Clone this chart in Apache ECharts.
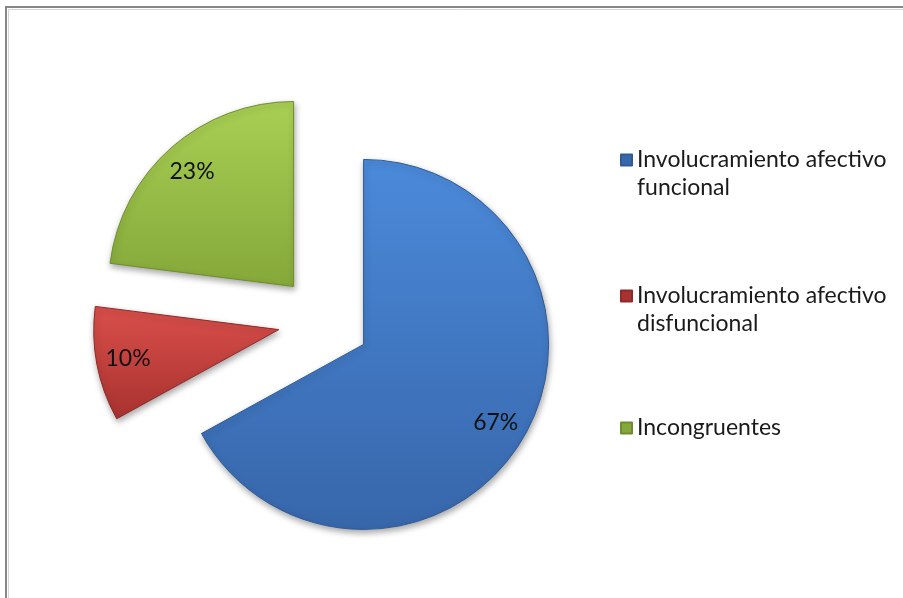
<!DOCTYPE html>
<html>
<head>
<meta charset="utf-8">
<script src="https://cdn.jsdelivr.net/npm/echarts@6/dist/echarts.min.js"></script>
<style>
html,body{margin:0;padding:0;background:#fff;}
#chart{width:903px;height:598px;}
</style>
</head>
<body>
<div id="chart"></div>
<script>
// Data
const categories = ['Involucramiento afectivo funcional', 'Involucramiento afectivo disfuncional', 'Incongruentes'];
const values = [67, 10, 23];
const legendLines = ['Involucramiento afectivo\nfuncional', 'Involucramiento afectivo\ndisfuncional', 'Incongruentes'];

const gradients = [
  ['#4B8ADA', '#3766AA'],
  ['#DA4F4B', '#A8322F'],
  ['#A9D054', '#85A83A']
];
const edgeColors = ['#2F5B98', '#8E2A27', '#6F8D2E'];
const FONT = 'Lato';

function grad(i) {
  return new echarts.graphic.LinearGradient(0, 0, 0, 1, [
    {offset: 0, color: gradients[i][0]},
    {offset: 1, color: gradients[i][1]}
  ]);
}

const chart = echarts.init(document.getElementById('chart'), null, {renderer: 'canvas'});

const mainData = categories.map((c, i) => ({
  name: c,
  value: values[i],
  selected: true,
  itemStyle: {
    color: grad(i),
    borderColor: edgeColors[i],
    borderWidth: 1,
    shadowBlur: 6,
    shadowColor: 'rgba(0,0,0,0.35)',
    shadowOffsetX: 1,
    shadowOffsetY: 3
  }
}));
const labelData = categories.map((c, i) => ({
  name: c,
  value: values[i],
  selected: true
}));

const legendTops = [118, 254, 414];
const legends = categories.map((c, i) => ({
  data: [{name: c, itemStyle: {color: gradients[i][1]}}],
  orient: 'vertical',
  left: 620,
  top: legendTops[i],
  padding: 0,
  itemWidth: 11,
  itemHeight: 11,
  icon: 'rect',
  selectedMode: false,
  formatter: function () { return (i < 2 ? '\n' : '') + legendLines[i]; },
  textStyle: {fontFamily: FONT, fontSize: 23, color: '#1a1a1a', lineHeight: 28}
}));

chart.setOption({
  animation: false,
  backgroundColor: '#ffffff',
  legend: legends,
  graphic: [
    {type: 'rect', shape: {x: 6, y: 7, width: 1000, height: 800}, style: {fill: 'none', stroke: '#878787', lineWidth: 2}, silent: true},
    {type: 'rect', shape: {x: 8.5, y: 9.5, width: 1000, height: 800}, style: {fill: 'none', stroke: '#d6d6d6', lineWidth: 1}, silent: true}
  ],
  series: [
    {
      type: 'pie',
      name: 'main',
      center: [324, 321],
      radius: [0, 185],
      startAngle: 90,
      clockwise: true,
      selectedMode: 'multiple',
      selectedOffset: 46,
      label: {show: false},
      labelLine: {show: false},
      emphasis: {disabled: true},
      data: mainData
    },
    {
      type: 'pie',
      name: 'labels',
      center: [324, 321],
      radius: [116, 185],
      startAngle: 90,
      clockwise: true,
      selectedMode: 'multiple',
      selectedOffset: 46,
      silent: true,
      itemStyle: {color: 'rgba(0,0,0,0)', borderWidth: 0},
      label: {
        show: true,
        position: 'inside',
        formatter: '{d}%',
        fontFamily: FONT,
        fontSize: 23,
        color: '#111'
      },
      labelLine: {show: false},
      emphasis: {disabled: true},
      data: labelData
    }
  ]
});
</script>
</body>
</html>
